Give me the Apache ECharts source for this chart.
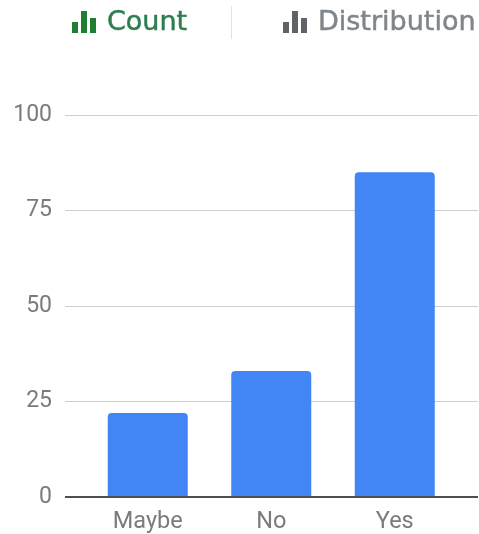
<!DOCTYPE html>
<html>
<head>
<meta charset="utf-8">
<style>
  html, body { margin: 0; padding: 0; background: #fff; }
  #chart { width: 479px; height: 534px; }
</style>
<script src="https://cdn.jsdelivr.net/npm/echarts@6/dist/echarts.min.js"></script>
</head>
<body>
<div id="chart"></div>
<script>
var categories = ['Maybe', 'No', 'Yes'];
var counts = [22, 33, 85];
var yTicks = [0, 25, 50, 75, 100];
var tabs = ['Count', 'Distribution'];

var font = 'Roboto, sans-serif';
var tabFont = '"DejaVu Sans", sans-serif';
var myChart = echarts.init(document.getElementById('chart'));

// little three-bar icon in front of each tab
function tabIcon(x, color) {
  return [[0, 11, 6], [9, 22, 6], [18, 15, 6]].map(function (b) {
    return {
      type: 'rect',
      shape: { x: x + b[0], y: 33 - b[1], width: b[2], height: b[1] },
      style: { fill: color }
    };
  });
}

var option = {
  animation: false,
  // grid 0 carries the gridlines, grid 1 the narrower band of bars
  grid: [
    { left: 65, right: 1, top: 115, bottom: 37 },
    { left: 86, right: 22.5, top: 115, bottom: 37 }
  ],
  xAxis: [
    { type: 'category', gridIndex: 0, data: categories, show: false },
    {
      type: 'category',
      gridIndex: 1,
      data: categories,
      axisLine: { show: false },
      axisTick: { show: false },
      axisLabel: { color: '#7b7b7b', fontSize: 23.5, fontFamily: font, margin: 13 }
    }
  ],
  yAxis: [
    {
      type: 'value',
      gridIndex: 0,
      min: yTicks[0],
      max: yTicks[yTicks.length - 1],
      interval: 25,
      axisLine: { show: false },
      axisTick: { show: false },
      axisLabel: { color: '#7b7b7b', fontSize: 23, fontFamily: font, margin: 13 },
      splitLine: { lineStyle: { color: '#cfcfcf', width: 1 } }
    },
    {
      type: 'value',
      gridIndex: 1,
      min: yTicks[0],
      max: yTicks[yTicks.length - 1],
      interval: 25,
      show: false
    }
  ],
  series: [
    {
      type: 'bar',
      xAxisIndex: 1,
      yAxisIndex: 1,
      data: counts,
      barWidth: 80,
      itemStyle: { color: '#4285f4', borderRadius: [4, 4, 0, 0] }
    }
  ],
  graphic: [].concat(
    tabIcon(72, '#1e7e34'),
    tabIcon(283, '#5f6368'),
    [
      { type: 'text', x: 107, y: 9, style: { text: tabs[0], fill: '#2e7d4f', stroke: '#2e7d4f', lineWidth: 0.5, font: '27px ' + tabFont } },
      { type: 'text', x: 318, y: 9, style: { text: tabs[1], fill: '#80868b', stroke: '#80868b', lineWidth: 0.5, font: '27px ' + tabFont } },
      { type: 'rect', shape: { x: 231, y: 6, width: 1, height: 33 }, style: { fill: '#e3e3e3' } },
      // baseline drawn over the foot of the bars
      { type: 'rect', z: 10, shape: { x: 65, y: 496, width: 413, height: 2 }, style: { fill: '#4f4f4f' } }
    ]
  )
};
myChart.setOption(option);
</script>
</body>
</html>
